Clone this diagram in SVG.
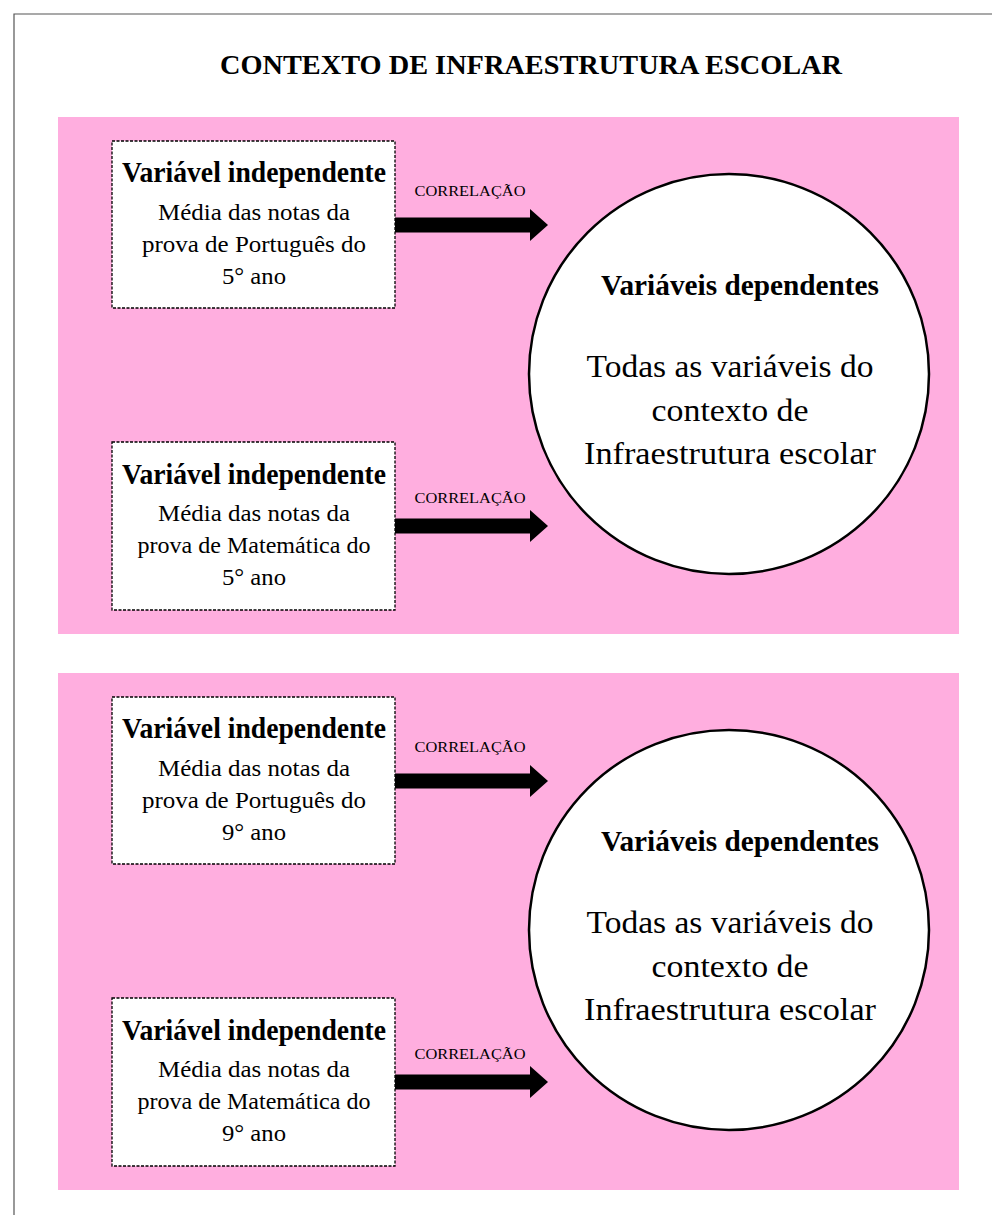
<svg xmlns="http://www.w3.org/2000/svg" width="992" height="1215" viewBox="0 0 992 1215">
  <defs>
    <style>
      .frame { fill: none; stroke: #555; stroke-width: 1.2; }
      .panel { fill: #FFAEDF; }
      .box { fill: #fff; stroke: #000; stroke-width: 1.3; stroke-dasharray: 3 1.5; }
      .circle { fill: #fff; stroke: #000; stroke-width: 2.5; }
      text { font-family: "Liberation Serif", serif; text-anchor: middle; fill: #000; }
      .title { font-weight: bold; font-size: 27px; }
      .head { font-weight: bold; font-size: 29px; }
      .body { font-size: 23px; }
      .big { font-size: 32px; }
      .lbl { font-size: 15px; }
      .arrow { fill: #000; }
    </style>
    <path id="arr" d="M0,-7.5 H135 V-16 L153,0 L135,16 V7.5 H0 Z"/>
  </defs>

  <!-- page frame -->
  <path class="frame" d="M14,1215 V14 H992"/>

  <text class="title" x="531" y="74" textLength="622" lengthAdjust="spacingAndGlyphs">CONTEXTO DE INFRAESTRUTURA ESCOLAR</text>

  <!-- upper panel: 5th year -->
  <rect class="panel" x="58" y="117" width="901" height="517"/>
  <!-- lower panel: 9th year -->
  <rect class="panel" x="58" y="673" width="901" height="517"/>

  <g id="connectors">
    <use href="#arr" class="arrow" x="395" y="225"/>
    <text class="lbl" x="470" y="196" textLength="111" lengthAdjust="spacingAndGlyphs">CORRELAÇÃO</text>
    <use href="#arr" class="arrow" x="395" y="526"/>
    <text class="lbl" x="470" y="503" textLength="111" lengthAdjust="spacingAndGlyphs">CORRELAÇÃO</text>
    <use href="#arr" class="arrow" x="395" y="781"/>
    <text class="lbl" x="470" y="752" textLength="111" lengthAdjust="spacingAndGlyphs">CORRELAÇÃO</text>
    <use href="#arr" class="arrow" x="395" y="1082"/>
    <text class="lbl" x="470" y="1059" textLength="111" lengthAdjust="spacingAndGlyphs">CORRELAÇÃO</text>
  </g>

  <g id="ind-pt-5">
    <rect class="box" x="112" y="141" width="283" height="167"/>
    <text class="head" x="254" y="182" textLength="264" lengthAdjust="spacingAndGlyphs">Variável independente</text>
    <text class="body" x="254" y="220" textLength="192" lengthAdjust="spacingAndGlyphs">Média das notas da</text>
    <text class="body" x="254" y="252" textLength="224" lengthAdjust="spacingAndGlyphs">prova de Português do</text>
    <text class="body" x="254" y="284" textLength="64" lengthAdjust="spacingAndGlyphs">5° ano</text>
  </g>

  <g id="ind-mat-5">
    <rect class="box" x="112" y="442" width="283" height="168"/>
    <text class="head" x="254" y="484" textLength="264" lengthAdjust="spacingAndGlyphs">Variável independente</text>
    <text class="body" x="254" y="521" textLength="192" lengthAdjust="spacingAndGlyphs">Média das notas da</text>
    <text class="body" x="254" y="553" textLength="233" lengthAdjust="spacingAndGlyphs">prova de Matemática do</text>
    <text class="body" x="254" y="585" textLength="64" lengthAdjust="spacingAndGlyphs">5° ano</text>
  </g>

  <g id="dep-5">
    <circle class="circle" cx="729" cy="374" r="200"/>
    <text class="head" x="740" y="295" textLength="278" lengthAdjust="spacingAndGlyphs">Variáveis dependentes</text>
    <text class="big" x="730" y="377" textLength="287" lengthAdjust="spacingAndGlyphs">Todas as variáveis do</text>
    <text class="big" x="730" y="421" textLength="157" lengthAdjust="spacingAndGlyphs">contexto de</text>
    <text class="big" x="730" y="464" textLength="292" lengthAdjust="spacingAndGlyphs">Infraestrutura escolar</text>
  </g>

  <g id="ind-pt-9">
    <rect class="box" x="112" y="697" width="283" height="167"/>
    <text class="head" x="254" y="738" textLength="264" lengthAdjust="spacingAndGlyphs">Variável independente</text>
    <text class="body" x="254" y="776" textLength="192" lengthAdjust="spacingAndGlyphs">Média das notas da</text>
    <text class="body" x="254" y="808" textLength="224" lengthAdjust="spacingAndGlyphs">prova de Português do</text>
    <text class="body" x="254" y="840" textLength="64" lengthAdjust="spacingAndGlyphs">9° ano</text>
  </g>

  <g id="ind-mat-9">
    <rect class="box" x="112" y="998" width="283" height="168"/>
    <text class="head" x="254" y="1040" textLength="264" lengthAdjust="spacingAndGlyphs">Variável independente</text>
    <text class="body" x="254" y="1077" textLength="192" lengthAdjust="spacingAndGlyphs">Média das notas da</text>
    <text class="body" x="254" y="1109" textLength="233" lengthAdjust="spacingAndGlyphs">prova de Matemática do</text>
    <text class="body" x="254" y="1141" textLength="64" lengthAdjust="spacingAndGlyphs">9° ano</text>
  </g>

  <g id="dep-9">
    <circle class="circle" cx="729" cy="930" r="200"/>
    <text class="head" x="740" y="851" textLength="278" lengthAdjust="spacingAndGlyphs">Variáveis dependentes</text>
    <text class="big" x="730" y="933" textLength="287" lengthAdjust="spacingAndGlyphs">Todas as variáveis do</text>
    <text class="big" x="730" y="977" textLength="157" lengthAdjust="spacingAndGlyphs">contexto de</text>
    <text class="big" x="730" y="1020" textLength="292" lengthAdjust="spacingAndGlyphs">Infraestrutura escolar</text>
  </g>
</svg>
